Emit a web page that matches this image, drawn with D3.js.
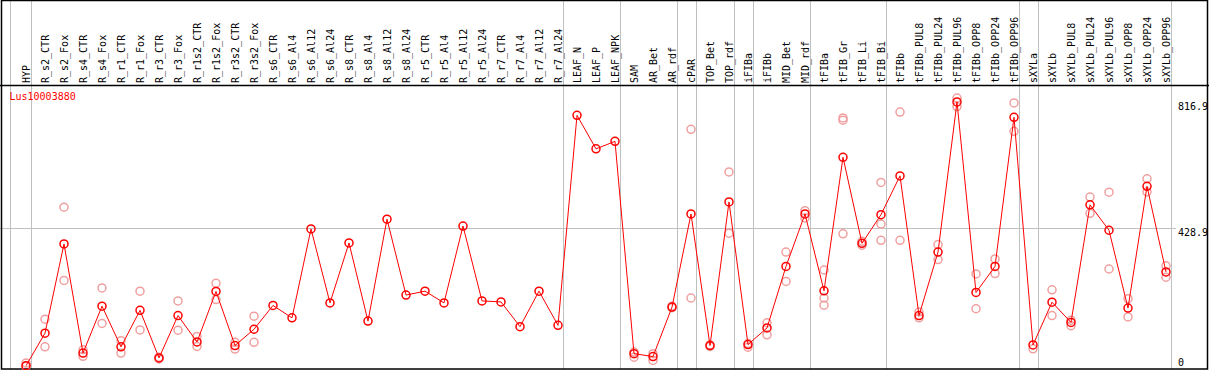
<!DOCTYPE html>
<html>
<head>
<meta charset="utf-8">
<script src="https://cdn.jsdelivr.net/npm/d3@7"></script>
<style>
  body { margin: 0; background: #fff; }
  text { font-family: "DejaVu Sans Mono", monospace; font-size: 10px; }
</style>
</head>
<body>
<script>
var gene = "Lus10003880";

var categories = ["HYP","R_s2_CTR","R_s2_Fox","R_s4_CTR","R_s4_Fox","R_r1_CTR","R_r1_Fox",
  "R_r3_CTR","R_r3_Fox","R_r1s2_CTR","R_r1s2_Fox","R_r3s2_CTR","R_r3s2_Fox",
  "R_s6_CTR","R_s6_Al4","R_s6_Al12","R_s6_Al24","R_s8_CTR","R_s8_Al4","R_s8_Al12","R_s8_Al24",
  "R_r5_CTR","R_r5_Al4","R_r5_Al12","R_r5_Al24","R_r7_CTR","R_r7_Al4","R_r7_Al12","R_r7_Al24",
  "LEAF_N","LEAF_P","LEAF_NPK","SAM","AR_Bet","AR_rdf","cPAR","TOP_Bet","TOP_rdf",
  "iFIBa","iFIBb","MID_Bet","MID_rdf","tFIBa","tFIB_Gr","tFIB_Li","tFIB_Bi","tFIBb",
  "tFIBb_PUL8","tFIBb_PUL24","tFIBb_PUL96","tFIBb_OPP8","tFIBb_OPP24","tFIBb_OPP96",
  "sXYLa","sXYLb","sXYLb_PUL8","sXYLb_PUL24","sXYLb_PUL96","sXYLb_OPP8","sXYLb_OPP24","sXYLb_OPP96"];

var means = [7, 107, 381, 46, 190, 65, 177, 31, 161, 80, 235, 69, 119,
  192, 154, 427, 200, 384, 144, 457, 224, 236, 200, 436, 206, 203, 127, 236, 131,
  776, 673, 696, 44, 35, 187, 473, 69, 510, 72, 123, 312, 473, 237, 647, 383, 471, 590,
  161, 356, 817, 232, 312, 770, 71, 202, 140, 501, 423, 184, 558, 295];

var replicates = [[15, 5], [150, 65], [494, 269], [56, 36], [246, 137], [84, 46], [236, 117],
  [28, 33], [206, 116], [97, 66], [260, 210], [79, 58], [159, 79],
  [], [], [], [], [], [], [], [], [], [], [], [], [], [], [], [],
  [], [], [], [49, 33], [44, 23], [190, 185], [733, 215], [66, 71], [602, 414],
  [64, 75], [139, 102], [356, 266], [483, 461], [301, 215, 193], [768, 761, 412],
  [377, 389], [570, 442, 392], [786, 392],
  [172, 154], [379, 333], [829, 803], [289, 182], [335, 290], [814, 727],
  [59], [240, 161], [147, 130], [525, 475], [540, 304], [213, 157], [581, 541], [314, 279]];

var separatorsAfter = ["HYP","R_r7_Al24","LEAF_NPK","AR_rdf","cPAR","TOP_rdf","iFIBa",
  "MID_rdf","tFIB_Bi","tFIBb_OPP96","sXYLa","sXYLb_OPP96"];

var yTicks = [0, 428.9, 816.9];

var w = 1209, h = 370;
var headerBottom = 85, plotBottom = 369;

var svg = d3.select("body").append("svg")
  .attr("width", w).attr("height", h);

var x = d3.scalePoint().domain(categories).range([26, 1166]);
var y = d3.scaleLinear().domain([0, 816.9]).range([368, 102]);

// grey separators
svg.append("line")
  .attr("x1", 10.5).attr("x2", 10.5).attr("y1", 0).attr("y2", h)
  .attr("stroke", "#c0c0c0");
svg.selectAll("line.sep")
  .data(separatorsAfter)
  .enter().append("line")
  .attr("class", "sep")
  .attr("x1", d => Math.round(x(d) + 4.5) + 0.5)
  .attr("x2", d => Math.round(x(d) + 4.5) + 0.5)
  .attr("y1", 0).attr("y2", h)
  .attr("stroke", "#c0c0c0");

// middle grid line
svg.append("line")
  .attr("x1", 0).attr("x2", 1176)
  .attr("y1", Math.round(y(yTicks[1])) + 0.5).attr("y2", Math.round(y(yTicks[1])) + 0.5)
  .attr("stroke", "#c0c0c0");

// frame
svg.append("rect")
  .attr("x", 1.5).attr("y", 0.5).attr("width", 1206).attr("height", plotBottom - 0.5)
  .attr("fill", "none").attr("stroke", "#000").attr("stroke-width", 1.5);
svg.append("line")
  .attr("x1", 0).attr("x2", w).attr("y1", headerBottom + 0.5).attr("y2", headerBottom + 0.5)
  .attr("stroke", "#000").attr("stroke-width", 1.5);

// category labels
svg.selectAll("text.cat")
  .data(categories)
  .enter().append("text")
  .attr("class", "cat")
  .attr("transform", d => "translate(" + (x(d) + 4) + "," + 83 + ") rotate(-90)")
  .attr("fill", "#000")
  .text(d => d);

// y labels
svg.selectAll("text.ylab")
  .data(yTicks)
  .enter().append("text")
  .attr("class", "ylab")
  .attr("x", 1178)
  .attr("y", d => d === 0 ? 366 : y(d) + 8)
  .attr("fill", "#000")
  .text(d => d === 0 ? "0" : d3.format(".1f")(d));

svg.append("text")
  .attr("x", 9.5).attr("y", 100)
  .attr("fill", "#ff0000")
  .text(gene);

// replicate points
var repPts = [];
replicates.forEach(function(r, i) {
  r.forEach(function(v) { repPts.push({ c: categories[i], v: v }); });
});
svg.selectAll("circle.rep")
  .data(repPts)
  .enter().append("circle")
  .attr("class", "rep")
  .attr("cx", d => x(d.c))
  .attr("cy", d => y(d.v))
  .attr("r", 4)
  .attr("fill", "none")
  .attr("stroke", "#f0a0a0")
  .attr("stroke-width", 1.5);

// mean line
var line = d3.line()
  .x((d, i) => x(categories[i]))
  .y(d => y(d));
svg.append("path")
  .datum(means)
  .attr("d", line)
  .attr("fill", "none")
  .attr("stroke", "#ff0000")
  .attr("stroke-width", 1);

svg.selectAll("circle.mean")
  .data(means)
  .enter().append("circle")
  .attr("class", "mean")
  .attr("cx", (d, i) => x(categories[i]))
  .attr("cy", d => y(d))
  .attr("r", 4)
  .attr("fill", "none")
  .attr("stroke", "#ff0000")
  .attr("stroke-width", 1.5);
</script>
</body>
</html>
